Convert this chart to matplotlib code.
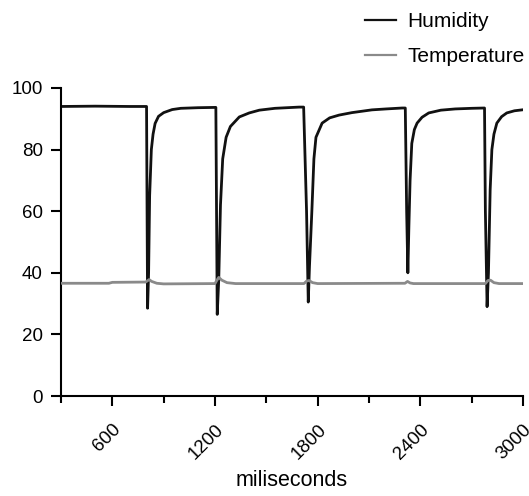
import matplotlib
matplotlib.use("Agg")
import matplotlib.pyplot as plt
from matplotlib.ticker import MultipleLocator

plt.rcParams['font.family'] = ['Liberation Sans', 'DejaVu Sans']

# humidity trace (ms, %)
hum_t = [300, 500, 700, 800,
         803, 806, 812, 818, 828, 838, 850, 870, 900, 950, 1000, 1100, 1205,
         1209, 1213, 1222, 1232, 1245, 1265, 1290, 1342, 1400, 1459, 1550, 1692, 1718,
         1735, 1745, 1752, 1766, 1778, 1790, 1826, 1870, 1925, 2000, 2117, 2200, 2294, 2312,
         2320, 2327, 2333, 2340, 2350, 2365, 2381, 2410, 2449, 2520, 2604, 2700, 2775,
         2780, 2790, 2798, 2808, 2818, 2830, 2847, 2875, 2905, 2950, 2995]
hum_v = [94.0, 94.1, 94.0, 94.0,
         60, 28.5, 40, 65, 80, 85, 88.5, 90.8, 92.0, 93.0, 93.4, 93.6, 93.7,
         60, 26.5, 38, 62, 77, 84, 87.5, 90.6, 91.9, 92.8, 93.4, 93.8, 93.8,
         60, 30.5, 42, 60, 77, 84, 88.6, 90.3, 91.2, 92.0, 92.9, 93.2, 93.5, 93.5,
         60, 40, 55, 70, 82, 86.5, 88.6, 90.5, 91.9, 92.8, 93.2, 93.4, 93.5,
         60, 29, 40, 67, 80, 85, 88.6, 90.7, 91.9, 92.6, 92.9]

# temperature trace (ms, deg C)
temp_t = [300, 580, 600, 795, 805, 815, 830, 860, 900, 1200, 1210, 1222, 1240, 1270, 1320,
          1720, 1735, 1750, 1770, 1800, 2310, 2325, 2340, 2360, 2780, 2795, 2810, 2830, 2860, 3000]
temp_v = [36.6, 36.6, 36.9, 37.0, 37.4, 37.8, 37.2, 36.6, 36.4, 36.5, 37.5, 38.5, 37.6, 36.8, 36.5,
          36.5, 37.3, 37.5, 36.8, 36.5, 36.6, 37.2, 36.7, 36.5, 36.5, 37.5, 37.6, 36.8, 36.5, 36.5]

x_ticks = [600, 1200, 1800, 2400, 3000]
y_ticks = [0, 20, 40, 60, 80, 100]

fig = plt.figure(figsize=(5.29, 4.96), dpi=100)
ax = fig.add_axes([0.1153, 0.2016, 0.8734, 0.621])

ax.plot(hum_t, hum_v, color="#111111", lw=2.0, label="Humidity", zorder=2)
ax.plot(temp_t, temp_v, color="#8a8a8a", lw=2.0, label="Temperature", zorder=3)

ax.set_xlim(300, 3000)
ax.set_ylim(0, 100)
ax.set_xticks(x_ticks)
ax.set_xticklabels([str(v) for v in x_ticks], rotation=45, ha="right",
                   rotation_mode="anchor", fontsize=13.5)
ax.xaxis.set_minor_locator(MultipleLocator(300))
ax.set_yticks(y_ticks)
ax.set_yticklabels([str(v) for v in y_ticks], fontsize=13.5)

for s in ["top", "right"]:
    ax.spines[s].set_visible(False)
for s in ["left", "bottom"]:
    ax.spines[s].set_linewidth(1.5)
ax.tick_params(which="major", length=7, width=1.5, pad=6)
ax.tick_params(axis="x", which="minor", length=5, width=1.5)
ax.tick_params(axis="x", which="major", pad=11)

ax.set_xlabel("miliseconds", fontsize=15.5, labelpad=5)

leg = fig.legend(loc="upper right", bbox_to_anchor=(0.992, 0.975), frameon=False,
                 fontsize=15, handlelength=1.5, handletextpad=0.55, labelspacing=0.75,
                 borderpad=0, borderaxespad=0)
for h in leg.get_lines():
    h.set_linewidth(1.6)

fig.savefig("out.png", dpi=100)
